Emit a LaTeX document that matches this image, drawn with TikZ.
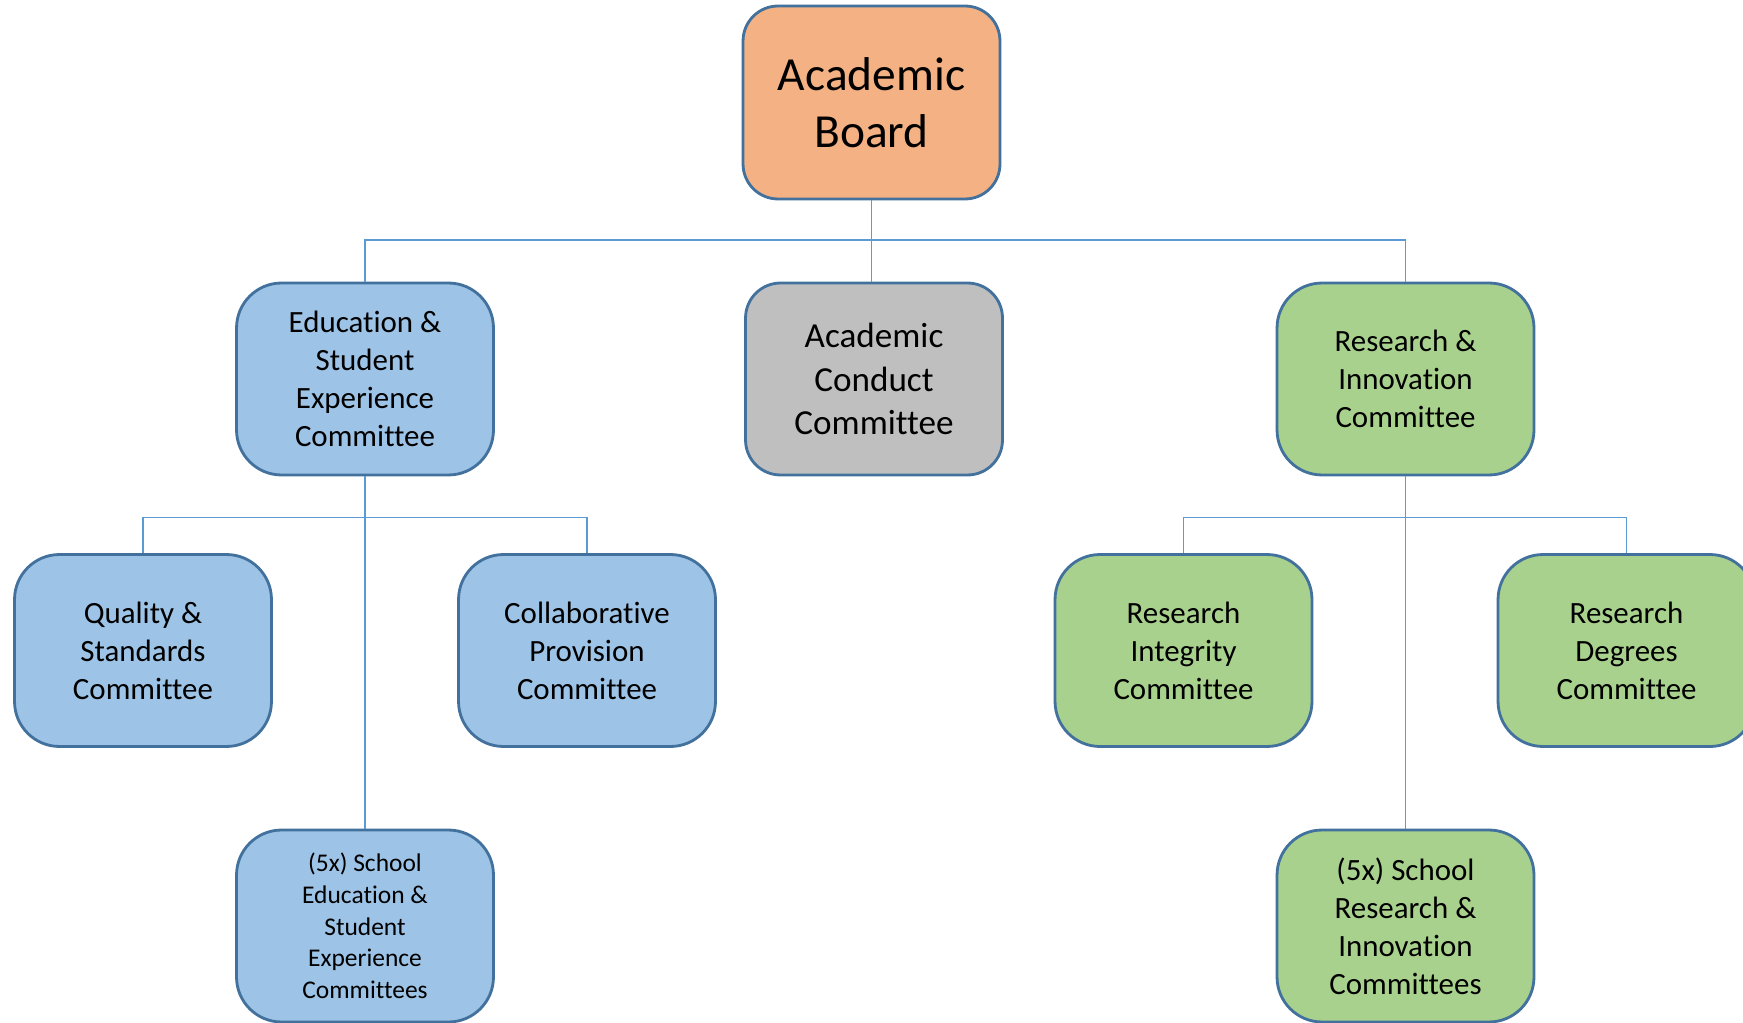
\documentclass[tikz,border=0pt]{standalone}
\usepackage{fontspec}
\setmainfont{Carlito}[Ligatures=NoCommon]
\definecolor{boardfill}{HTML}{F4B183}
\definecolor{bluefill}{HTML}{9DC3E6}
\definecolor{greyfill}{HTML}{BFBFBF}
\definecolor{greenfill}{HTML}{A9D18E}
\definecolor{edge}{HTML}{41719C}
\definecolor{wire}{HTML}{5B9BD5}
\tikzset{
  unit/.style={draw=edge, line width=1.6pt, rounded corners=0.9cm,
    minimum width=5.14cm, minimum height=3.84cm, align=center, inner sep=0pt,
    font=\fontsize{17.6}{21.6}\selectfont},
  bluebox/.style={unit, fill=bluefill},
  greenbox/.style={unit, fill=greenfill},
  wireline/.style={draw=wire, line width=0.8pt}
}
\begin{document}
\begin{tikzpicture}[x=0.02cm, y=-0.02cm]
\useasboundingbox (0,0) rectangle (1743,1023);
\fill[white] (0,0) rectangle (1743,1023);
% top
\node[unit, fill=boardfill, minimum height=3.86cm, rounded corners=0.7cm,
  font=\fontsize{27}{32.6}\selectfont] (board) at (871.5,102.5) {Academic\\Board};
% row 1
\node[bluebox] (ese) at (365,379) {Education \&\\Student\\Experience\\Committee};
\node[unit, fill=greyfill, rounded corners=0.7cm,
  font=\fontsize{20}{25}\selectfont] (acc) at (874,379) {Academic\\Conduct\\Committee};
\node[greenbox] (ri) at (1405.5,379) {Research \&\\Innovation\\Committee};
% row 2
\node[bluebox] (qs) at (143,650.5) {Quality \&\\Standards\\Committee};
\node[bluebox] (cp) at (587,650.5) {Collaborative\\Provision\\Committee};
\node[greenbox] (ric) at (1183.5,650.5) {Research\\Integrity\\Committee};
\node[greenbox] (rdc) at (1626.5,650.5) {Research\\Degrees\\Committee};
% row 3
\node[bluebox, font=\fontsize{14.5}{18}\selectfont] (sese) at (365,926)
  {(5x) School\\Education \&\\Student\\Experience\\Committees};
\node[greenbox] (sri) at (1405.5,926) {(5x) School\\Research \&\\Innovation\\Committees};
% connectors
\coordinate (bus1) at (871.5,240);
\coordinate (bus2) at (365,517.5);
\coordinate (bus3) at (1405.5,517.5);
\draw[wireline] (board.south) -- (board.south |- acc.north);
\draw[wireline] (ese.north) |- (bus1) -| (ri.north);
\draw[wireline] (ese.south) -- (sese.north);
\draw[wireline] (qs.north) |- (bus2) -| (cp.north);
\draw[wireline] (ri.south) -- (sri.north);
\draw[wireline] (ric.north) |- (bus3) -| (rdc.north);
\end{tikzpicture}
\end{document}
